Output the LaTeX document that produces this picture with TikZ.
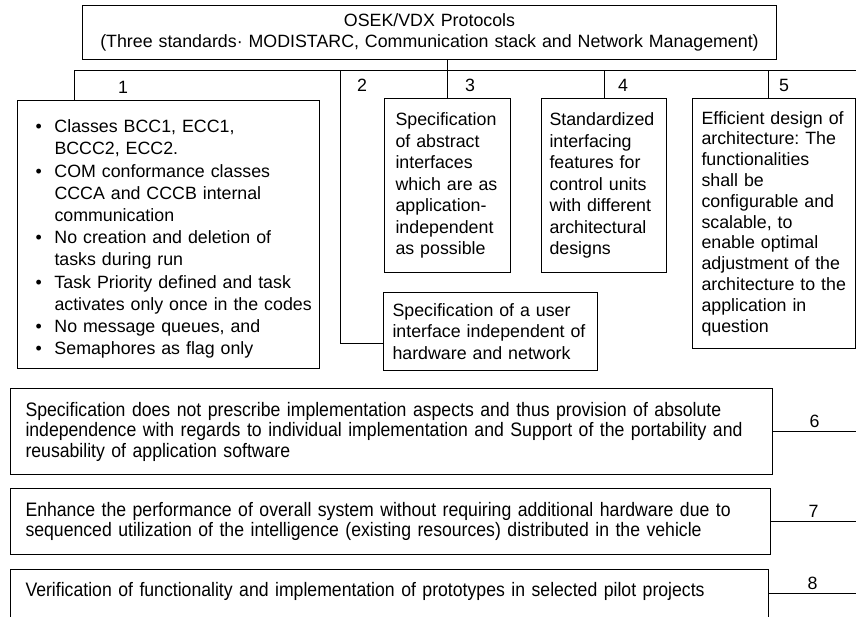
\documentclass[tikz,border=0pt]{standalone}
\usepackage{fontspec}
\setmainfont{Liberation Sans}
\newfontfamily\narrowsans[FakeStretch=0.905]{Liberation Sans}
\usetikzlibrary{positioning}
\frenchspacing
\newcommand{\oitem}[1]{\par\hangindent=33pt\hangafter=1\noindent\hspace*{14pt}\makebox[19pt][l]{\textbullet}#1\par}
\newcommand{\nl}{\hfill\break}

\begin{document}
\begin{tikzpicture}[x=1pt,y=-1pt,
  box/.style={draw,line width=1pt,anchor=north west,align=left,inner ysep=0pt,
    font=\fontsize{17.8}{21.5}\selectfont},
  wide/.style={box,font=\narrowsans\fontsize{19.5}{20.5}\selectfont,inner xsep=15pt},
  num/.style={font=\fontsize{17.8}{20}\selectfont},
  link/.style={line width=1pt}]
  \clip (0,0) rectangle (856,617);

  % Head: protocol box and the bus below it
  \node[box,align=center,text width=680pt,inner xsep=7pt,minimum height=54pt,
    font=\fontsize{17.8}{21}\selectfont] (head) at (82,5)
    {OSEK/VDX Protocols\\(Three standards· MODISTARC, Communication stack and Network Management)};
  \coordinate (busL) at (74,71);
  \coordinate (busR) at (856,71);
  \coordinate (b2) at (340,71);

  % Branches 1-5
  \node[box,text width=294pt,inner xsep=4pt,minimum height=268pt,
    font=\fontsize{17.8}{22.2}\selectfont] (p1) at (17,100)
    {\oitem{Classes BCC1, ECC1,\nl BCCC2, ECC2.}
     \oitem{COM conformance classes\nl CCCA and CCCB internal\nl communication}
     \oitem{No creation and deletion of\nl tasks during run}
     \oitem{Task Priority defined and task\nl activates only once in the codes}
     \oitem{No message queues, and}
     \oitem{Semaphores as flag only}};
  \node[box,text width=196pt,inner xsep=9pt,minimum height=78pt] (p2) at (383,292)
    {Specification of a user\\interface independent of\\hardware and network};
  \node[box,text width=104pt,inner xsep=11pt,minimum height=174pt] (p3) at (384,98)
    {Specification\\of abstract\\interfaces\\which are as\\application-\\independent\\as possible};
  \node[box,text width=109pt,inner xsep=8pt,minimum height=174pt] (p4) at (541,98)
    {Standardized\\interfacing\\features for\\control units\\with different\\architectural\\designs};
  \node[box,text width=145pt,inner xsep=9pt,minimum height=250pt,
    font=\fontsize{17.8}{20.8}\selectfont] (p5) at (692,98)
    {Efficient design of\\architecture: The\\functionalities\\shall be\\configurable and\\scalable, to\\enable optimal\\adjustment of the\\architecture to the\\application in\\question};

  \draw[link] (busL) -- (busR);
  \draw[link] (head.south -| p3.north) -- (p3.north);
  \draw[link] (busL) -- (busL |- p1.north);
  \draw[link] (b2) |- ([yshift=-12pt]p2.west);
  \draw[link] (p4.north) -- (p4.north |- busL);
  \draw[link] ([xshift=-6pt]p5.north) -- ([xshift=-6pt]p5.north |- busL);

  \node[num] (n1) at (123,87) {1};
  \node[num] (n2) at (362,85) {2};
  \node[num] (n3) at (470,85) {3};
  \node[num] (n4) at (623,85) {4};
  \node[num] (n5) at (784,85) {5};

  % Level 2: the three wide boxes
  \node[wide,text width=732pt,minimum height=86pt] (p6) at (10,388)
    {Specification does not prescribe implementation aspects and thus provision of absolute\\independence with regards to individual implementation and Support of the portability and\\reusability of application software};
  \node[wide,text width=730pt,minimum height=66pt] (p7) at (10,488)
    {Enhance the performance of overall system without requiring additional hardware due to\\sequenced utilization of the intelligence (existing resources) distributed in the vehicle};
  \node[wide,text width=728pt,text height=27pt,text depth=40pt] (p8) at (10,569)
    {Verification of functionality and implementation of prototypes in selected pilot projects};

  \draw[link] (p6.east) -- (p6.east -| busR) node[num,midway,above] (n6) {6};
  \draw[link] (p7.east) -- (p7.east -| busR) node[num,midway,above] (n7) {7};
  \draw[link] (p8.mid east) -- (p8.mid east -| busR) node[num,midway,above] (n8) {8};
\end{tikzpicture}
\end{document}
